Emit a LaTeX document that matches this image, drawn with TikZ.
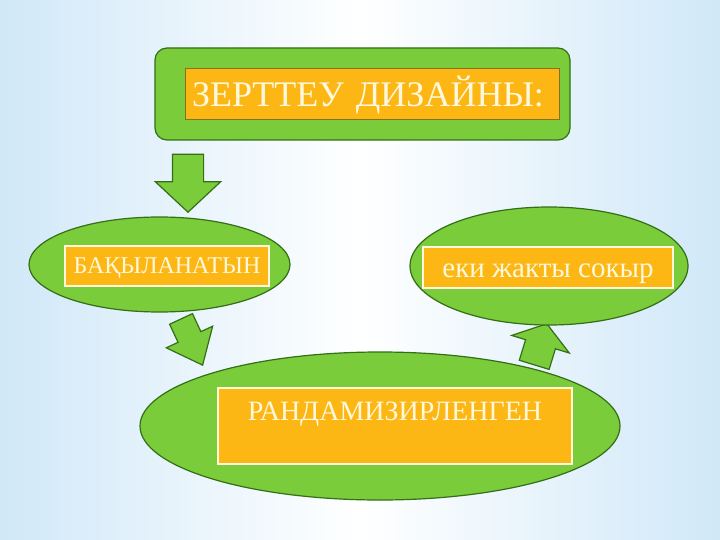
\documentclass[tikz,border=0pt]{standalone}
\usepackage{fontspec}
\setmainfont{Liberation Serif}
\usetikzlibrary{shapes.geometric,shapes.arrows}
\definecolor{leafgreen}{RGB}{122,204,58}
\definecolor{darkleaf}{RGB}{52,110,22}
\definecolor{boxorange}{RGB}{253,183,20}
\definecolor{boxedge}{RGB}{140,110,20}
\definecolor{creamtext}{RGB}{255,248,220}
\definecolor{bgblue}{RGB}{208,232,248}
\tikzset{
  greenoval/.style={ellipse, draw=darkleaf, line width=1.2pt, fill=leafgreen, inner sep=0},
  greenbox/.style={rectangle, rounded corners=12pt, draw=darkleaf, line width=1.2pt, fill=leafgreen, inner sep=0},
  orangebox/.style={rectangle, fill=boxorange, draw=creamtext, line width=1.5pt, inner sep=0, text=creamtext},
  blockarrow/.style={single arrow, draw=darkleaf, line width=1.2pt, fill=leafgreen, inner xsep=0, anchor=tip},
}

\begin{document}
\begin{tikzpicture}[x=1pt,y=-1pt]
	%%%%% START %%%%%
	\useasboundingbox (0,0) rectangle (720,540);
	\shade[left color=bgblue, right color=bgblue, middle color=white] (0,0) rectangle (720,540);
	
	% block arrows
	\node[blockarrow, inner ysep=15, minimum height=58, minimum width=64, single arrow head extend=17, single arrow tip angle=94, rotate=-90] (downarr) at (188,213) {};
	\node[blockarrow, inner ysep=12, minimum height=51, minimum width=50, single arrow head extend=13, single arrow tip angle=79, rotate=-65] (slantarr) at (203,366) {};
	\node[blockarrow, inner ysep=15, minimum height=43, minimum width=59, single arrow head extend=14.5, single arrow tip angle=109, rotate=73] (uparr) at (547,323) {};
	
	% top
	\node[greenbox, minimum width=415, minimum height=92] (design) at (362.5,94) {};
	\node[orangebox, draw=boxedge, line width=0.6pt, inner xsep=7, text width=360, align=left, text height=39, text depth=12, font=\fontsize{36}{40}\selectfont] (designlbl) at (372,93.5) {ЗЕРТТЕУ ДИЗАЙНЫ:};
	
	% left
	\node[greenoval, minimum width=261, minimum height=95] (observ) at (159.5,264.5) {};
	\node[orangebox, minimum width=204, text height=27, text depth=13, font=\fontsize{24}{26}\selectfont] (observlbl) at (167,266) {БАҚЫЛАНАТЫН};
	
	% right
	\node[greenoval, minimum width=278, minimum height=118] (blind) at (549,266) {};
	\node[orangebox, minimum width=250, text height=30, text depth=11, font=\fontsize{29}{32}\selectfont] (blindlbl) at (548,267.5) {еки жакты сокыр};
	
	% bottom
	\node[greenoval, minimum width=480, minimum height=148] (random) at (380,426) {};
	\node[orangebox, minimum width=354, text height=32, text depth=44, font=\fontsize{28}{30}\selectfont] (randomlbl) at (395,426) {РАНДАМИЗИРЛЕНГЕН};
	
	%%%%% END %%%%%
\end{tikzpicture}
\end{document}
